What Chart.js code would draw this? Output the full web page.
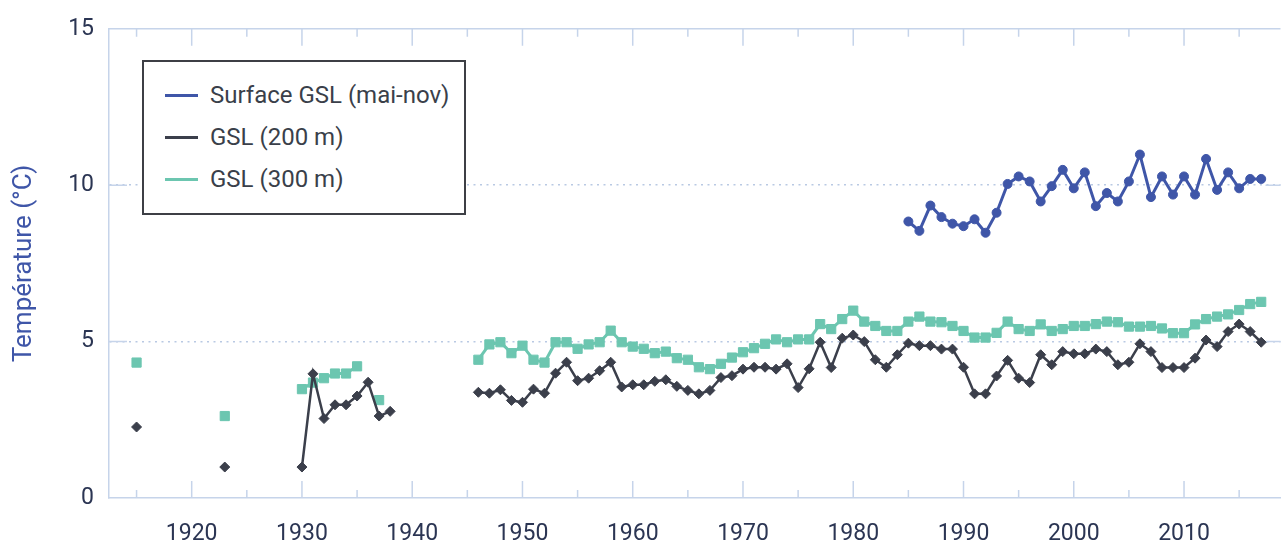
<!DOCTYPE html>
<html lang="fr">
<head>
<meta charset="utf-8">
<title>Température GSL</title>
<script src="https://cdn.jsdelivr.net/npm/chart.js@4.4.1/dist/chart.umd.min.js"></script>
<style>
  html, body { margin: 0; padding: 0; background: #fff; }
  #wrap { position: relative; width: 1288px; height: 541px; }
  #legend {
    position: absolute; left: 142px; top: 60px; width: 320px; height: 151px;
    border: 2px solid #3d3f45; background: #fff;
    font-family: Roboto, sans-serif; font-size: 24px; color: #3a3f4a;
  }
  .item { position: absolute; left: 21px; height: 30px; display: flex; align-items: center; white-space: nowrap; }
  .swatch { width: 33px; height: 3px; margin-right: 12px; }
</style>
</head>
<body>
<div id="wrap">
  <canvas id="tempChart" width="1288" height="541"></canvas>
  <div id="legend"></div>
</div>
<script>
const years = [
  1915, 1916, 1917, 1918, 1919, 1920, 1921, 1922, 1923, 1924,
  1925, 1926, 1927, 1928, 1929, 1930, 1931, 1932, 1933, 1934,
  1935, 1936, 1937, 1938, 1939, 1940, 1941, 1942, 1943, 1944,
  1945, 1946, 1947, 1948, 1949, 1950, 1951, 1952, 1953, 1954,
  1955, 1956, 1957, 1958, 1959, 1960, 1961, 1962, 1963, 1964,
  1965, 1966, 1967, 1968, 1969, 1970, 1971, 1972, 1973, 1974,
  1975, 1976, 1977, 1978, 1979, 1980, 1981, 1982, 1983, 1984,
  1985, 1986, 1987, 1988, 1989, 1990, 1991, 1992, 1993, 1994,
  1995, 1996, 1997, 1998, 1999, 2000, 2001, 2002, 2003, 2004,
  2005, 2006, 2007, 2008, 2009, 2010, 2011, 2012, 2013, 2014,
  2015, 2016, 2017
];

// GSL 200 m (null = no measurement, breaks the line)
const gsl200 = [
  2.27, null, null, null, null, null, null, null, 0.99, null,
  null, null, null, null, null, 0.99, 3.97, 2.54, 2.98, 2.98,
  3.26, 3.70, 2.62, 2.77, null, null, null, null, null, null,
  null, 3.38, 3.35, 3.46, 3.12, 3.06, 3.48, 3.35, 3.99, 4.34,
  3.75, 3.83, 4.07, 4.34, 3.55, 3.62, 3.62, 3.73, 3.78, 3.57,
  3.44, 3.33, 3.44, 3.85, 3.91, 4.12, 4.18, 4.18, 4.12, 4.29,
  3.53, 4.13, 4.98, 4.17, 5.11, 5.21, 5.00, 4.42, 4.18, 4.58,
  4.95, 4.87, 4.87, 4.76, 4.76, 4.18, 3.33, 3.33, 3.90, 4.40,
  3.83, 3.69, 4.58, 4.26, 4.68, 4.61, 4.61, 4.76, 4.68, 4.26,
  4.34, 4.93, 4.68, 4.17, 4.17, 4.17, 4.47, 5.05, 4.84, 5.32,
  5.56, 5.32, 4.98
];

// GSL 300 m
const gsl300 = [
  4.33, null, null, null, null, null, null, null, 2.62, null,
  null, null, null, null, null, 3.48, 3.69, 3.83, 3.98, 3.98,
  4.21, null, 3.13, null, null, null, null, null, null, null,
  null, 4.42, 4.91, 4.98, 4.63, 4.87, 4.42, 4.33, 4.98, 4.98,
  4.77, 4.91, 4.98, 5.35, 4.98, 4.84, 4.77, 4.63, 4.68, 4.47,
  4.42, 4.18, 4.12, 4.29, 4.49, 4.66, 4.79, 4.93, 5.07, 4.98,
  5.07, 5.07, 5.56, 5.40, 5.72, 5.99, 5.64, 5.50, 5.34, 5.34,
  5.64, 5.80, 5.64, 5.62, 5.50, 5.34, 5.13, 5.13, 5.28, 5.64,
  5.40, 5.34, 5.55, 5.34, 5.40, 5.50, 5.50, 5.56, 5.64, 5.62,
  5.48, 5.48, 5.50, 5.42, 5.27, 5.27, 5.55, 5.72, 5.80, 5.87,
  6.01, 6.20, 6.27
];

// Surface GSL (mai-nov)
const surfaceYears = [
  1985, 1986, 1987, 1988, 1989, 1990, 1991, 1992, 1993, 1994,
  1995, 1996, 1997, 1998, 1999, 2000, 2001, 2002, 2003, 2004,
  2005, 2006, 2007, 2008, 2009, 2010, 2011, 2012, 2013, 2014,
  2015, 2016, 2017
];
const surface = [
  8.84, 8.54, 9.35, 8.98, 8.77, 8.69, 8.91, 8.48, 9.12, 10.04,
  10.28, 10.12, 9.48, 9.97, 10.49, 9.90, 10.41, 9.33, 9.75, 9.48,
  10.12, 10.98, 9.62, 10.28, 9.70, 10.28, 9.70, 10.84, 9.85, 10.41,
  9.90, 10.20, 10.20
];

const yTicks = [0, 5, 10, 15];

const BLUE = "#3f56a8";
const DARK = "#3b3f4b";
const GREEN = "#6cc6b0";
const AXIS = "#c6d4ea";

Chart.defaults.font.family = "Roboto, sans-serif";

function toPoints(xs, ys) {
  return xs.map((x, i) => ({ x: x, y: ys[i] }));
}

// inner tick stubs and frame, drawn like the original
const frameTicks = {
  id: "frameTicks",
  beforeDatasetsDraw(chart) {
    const { ctx, chartArea: a, scales } = chart;
    ctx.save();
    ctx.strokeStyle = AXIS;
    ctx.lineWidth = 1.5;
    ctx.beginPath();
    ctx.moveTo(a.left, a.top);
    ctx.lineTo(a.right, a.top);
    yTicks.slice(1, -1).forEach((v) => {
      const y = scales.y.getPixelForValue(v);
      ctx.moveTo(a.left, y);
      ctx.lineTo(a.left + 18, y);
      ctx.moveTo(a.right - 15, y);
      ctx.lineTo(a.right, y);
    });
    for (let yr = 1915; yr <= 2015; yr += 5) {
      const x = scales.x.getPixelForValue(yr);
      const len = yr % 10 === 0 ? 17 : 8;
      ctx.moveTo(x, a.bottom);
      ctx.lineTo(x, a.bottom - len);
      ctx.moveTo(x, a.top);
      ctx.lineTo(x, a.top + len);
    }
    ctx.stroke();
    ctx.restore();
  },
};

const tempChart = new Chart(document.getElementById("tempChart"), {
  type: "line",
  data: {
    datasets: [
      {
        label: "Surface GSL (mai-nov)",
        data: toPoints(surfaceYears, surface),
        borderColor: BLUE,
        backgroundColor: BLUE,
        borderWidth: 3,
        pointStyle: "circle",
        pointRadius: 4.5,
        pointBorderWidth: 1,
        tension: 0,
      },
      {
        label: "GSL (200 m)",
        data: toPoints(years, gsl200),
        borderColor: DARK,
        backgroundColor: DARK,
        borderWidth: 2.5,
        pointStyle: "rectRot",
        pointRadius: 5,
        pointBorderWidth: 1,
        tension: 0,
      },
      {
        label: "GSL (300 m)",
        data: toPoints(years, gsl300),
        borderColor: GREEN,
        backgroundColor: GREEN,
        borderWidth: 3,
        pointStyle: "rect",
        pointRadius: 6.5,
        pointBorderWidth: 1,
        tension: 0,
      },
    ],
  },
  options: {
    responsive: false,
    animation: false,
    devicePixelRatio: 1,
    spanGaps: false,
    layout: { padding: { top: 24, right: 0, left: 0, bottom: 0 } },
    plugins: {
      legend: { display: false },
      tooltip: { enabled: false },
    },
    scales: {
      x: {
        type: "linear",
        min: 1912.5,
        max: 2018.75,
        afterFit: (scale) => { scale.height = 43; },
        grid: { display: false },
        border: { display: true, color: AXIS, width: 1.5 },
        ticks: {
          stepSize: 5,
          includeBounds: false,
          autoSkip: false,
          maxRotation: 0,
          padding: 14,
          color: "#2b3553",
          font: { size: 23 },
          callback: (v) => (v % 10 === 0 ? String(v) : ""),
        },
      },
      y: {
        min: 0,
        max: 15,
        afterFit: (scale) => { scale.width = 109; },
        grid: {
          drawTicks: false,
          lineWidth: 1.5,
          color: (c) => (c.tick && (c.tick.value === 0 || c.tick.value === 15) ? "rgba(0,0,0,0)" : "#b9c9e3"),
        },
        border: { display: true, color: AXIS, width: 1.5, dash: [2, 4.5] },
        ticks: {
          stepSize: 5,
          padding: 15,
          color: "#2b3553",
          font: { size: 23 },
        },
        title: {
          display: true,
          text: "Température (°C)",
          color: BLUE,
          font: { size: 26 },
          padding: { top: 9, bottom: 0 },
        },
      },
    },
  },
  plugins: [frameTicks],
});

// legend box inside the plot, as in the original
const legendEl = document.getElementById("legend");
const rowTops = [18, 60, 102];
tempChart.data.datasets.forEach((ds, i) => {
  const item = document.createElement("div");
  item.className = "item";
  item.style.top = rowTops[i] + "px";
  const sw = document.createElement("span");
  sw.className = "swatch";
  sw.style.background = ds.borderColor;
  const txt = document.createElement("span");
  txt.textContent = ds.label;
  item.appendChild(sw);
  item.appendChild(txt);
  legendEl.appendChild(item);
});
</script>
</body>
</html>
